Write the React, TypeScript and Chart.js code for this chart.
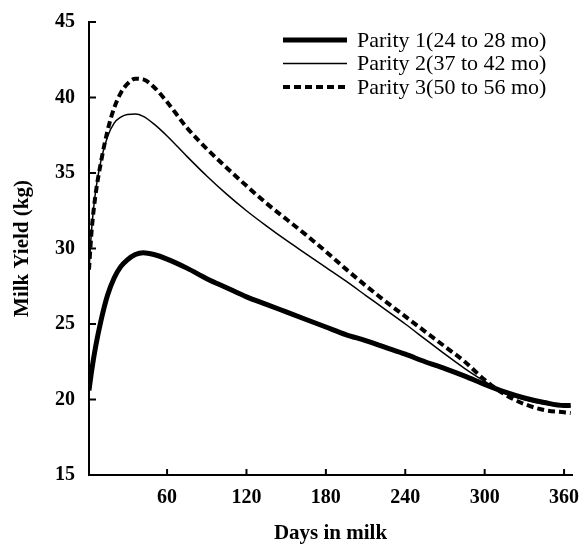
import React, { useEffect, useRef } from 'react';
import { Chart, registerables } from 'chart.js';

Chart.register(...registerables);

const DAYS = [1, 3, 6, 10, 15, 20, 25, 30, 36, 42, 50, 60, 75, 90, 105, 120, 135, 150, 165, 180, 195, 210, 225, 240, 255, 270, 285, 300, 315, 330, 345, 360, 365];
const PARITY1 = [20.6, 21.9, 23.5, 25.2, 26.9, 28.05, 28.8, 29.25, 29.6, 29.72, 29.6, 29.3, 28.7, 28.0, 27.4, 26.8, 26.3, 25.8, 25.3, 24.8, 24.3, 23.9, 23.45, 23.0, 22.5, 22.05, 21.55, 21.0, 20.5, 20.1, 19.8, 19.6, 19.6];
const PARITY2 = [28.6, 31.3, 33.8, 35.8, 37.4, 38.3, 38.7, 38.88, 38.9, 38.75, 38.25, 37.45, 36.1, 34.8, 33.6, 32.5, 31.5, 30.55, 29.65, 28.75, 27.85, 26.9, 25.95, 25.0, 24.0, 23.0, 22.05, 21.2, 20.45, 20.0, 19.7, 19.55, 19.55];
const PARITY3 = [28.6, 31.2, 33.6, 35.7, 37.8, 39.3, 40.3, 40.9, 41.25, 41.2, 40.7, 39.7, 38.0, 36.6, 35.35, 34.15, 33.0, 31.95, 30.9, 29.8, 28.65, 27.55, 26.5, 25.5, 24.5, 23.5, 22.5, 21.3, 20.35, 19.7, 19.3, 19.15, 19.1];
const SERIES_LABELS = ['Parity 1(24 to 28 mo)', 'Parity 2(37 to 42 mo)', 'Parity 3(50 to 56 mo)'];
const X_TICKS = [60, 120, 180, 240, 300, 360];
const Y_TICKS = [15, 20, 25, 30, 35, 40, 45];

const SERIF = '"Liberation Serif", "Times New Roman", serif';

const legendPlugin = {
  id: 'customLegend',
  afterDraw(chart: any) {
    const ctx = chart.ctx;
    const ds = chart.data.datasets;
    ctx.save();
    ctx.font = `22px ${SERIF}`;
    ctx.textBaseline = 'middle';
    ctx.textAlign = 'left';
    ctx.fillStyle = '#000';
    ds.forEach((d: any, i: number) => {
      const y = 40 + i * 23.5;
      ctx.beginPath();
      ctx.lineWidth = d.borderWidth;
      ctx.setLineDash(d.borderDash || []);
      ctx.strokeStyle = d.borderColor;
      ctx.moveTo(283, y);
      ctx.lineTo(347, y);
      ctx.stroke();
      ctx.setLineDash([]);
      ctx.fillText(d.label, 357, y + 1);
    });
    ctx.restore();
  },
};

const inwardTicks = {
  id: 'inwardTicks',
  afterDraw(chart: any) {
    const { ctx, chartArea, scales } = chart;
    ctx.save();
    ctx.strokeStyle = '#000';
    ctx.lineWidth = 2;
    scales.y.ticks.forEach((t: any) => {
      const y = scales.y.getPixelForValue(t.value);
      ctx.beginPath();
      ctx.moveTo(chartArea.left, y);
      ctx.lineTo(chartArea.left + 7, y);
      ctx.stroke();
    });
    scales.x.ticks.forEach((t: any) => {
      const x = scales.x.getPixelForValue(t.value);
      ctx.beginPath();
      ctx.moveTo(x, chartArea.bottom);
      ctx.lineTo(x, chartArea.bottom - 6);
      ctx.stroke();
    });
    ctx.restore();
  },
};

export default function App() {
  const ref = useRef<HTMLCanvasElement | null>(null);

  useEffect(() => {
    if (!ref.current) return;
    const toPts = (vals: number[]) => DAYS.map((d, i) => ({ x: d, y: vals[i] }));
    const chart = new Chart(ref.current, {
      type: 'line',
      data: {
        datasets: [
          { label: SERIES_LABELS[0], data: toPts(PARITY1), borderColor: '#000', borderWidth: 5, pointRadius: 0, cubicInterpolationMode: 'monotone', fill: false },
          { label: SERIES_LABELS[1], data: toPts(PARITY2), borderColor: '#000', borderWidth: 1.5, pointRadius: 0, cubicInterpolationMode: 'monotone', fill: false },
          { label: SERIES_LABELS[2], data: toPts(PARITY3), borderColor: '#000', borderWidth: 4, borderDash: [7, 4], pointRadius: 0, cubicInterpolationMode: 'monotone', fill: false },
        ],
      } as any,
      options: {
        animation: false,
        responsive: false,
        devicePixelRatio: 1,
        layout: { padding: { top: 22, right: 9, left: 0, bottom: 0 } },
        plugins: { legend: { display: false }, tooltip: { enabled: false } },
        scales: {
          x: {
            type: 'linear',
            min: 1,
            max: 366,
            afterBuildTicks: (s: any) => { s.ticks = X_TICKS.map((v) => ({ value: v })); },
            afterFit: (s: any) => { s.height = 69; s.paddingLeft = 0; s.paddingRight = 0; },
            ticks: { font: { family: SERIF, size: 20, weight: 'bold' }, color: '#000', padding: 11, maxRotation: 0, autoSkip: false },
            grid: { display: true, drawOnChartArea: false, drawTicks: false },
            border: { display: true, color: '#000', width: 2 },
            title: { display: true, text: 'Days in milk', color: '#000', font: { family: SERIF, size: 21, weight: 'bold', lineHeight: 1 }, padding: { top: 0, bottom: 0 } },
          },
          y: {
            type: 'linear',
            min: 15,
            max: 45,
            afterBuildTicks: (s: any) => { s.ticks = Y_TICKS.map((v) => ({ value: v })); },
            afterFit: (s: any) => { s.width = 89; s.paddingTop = 0; s.paddingBottom = 0; },
            ticks: { font: { family: SERIF, size: 20, weight: 'bold' }, color: '#000', padding: 14, autoSkip: false },
            grid: { display: true, drawOnChartArea: false, drawTicks: false },
            border: { display: true, color: '#000', width: 2 },
            title: { display: true, text: 'Milk Yield (kg)', color: '#000', font: { family: SERIF, size: 21, weight: 'bold', lineHeight: 1 }, padding: { top: 12, bottom: 0 } },
          },
        },
      } as any,
      plugins: [legendPlugin, inwardTicks],
    });
    return () => chart.destroy();
  }, []);

  return (
    <div style={{ position: 'absolute', left: 0, top: 0, width: 581, height: 544, background: '#fff' }}>
      <canvas ref={ref} width={581} height={544} style={{ width: 581, height: 544, display: 'block' }} />
    </div>
  );
}
